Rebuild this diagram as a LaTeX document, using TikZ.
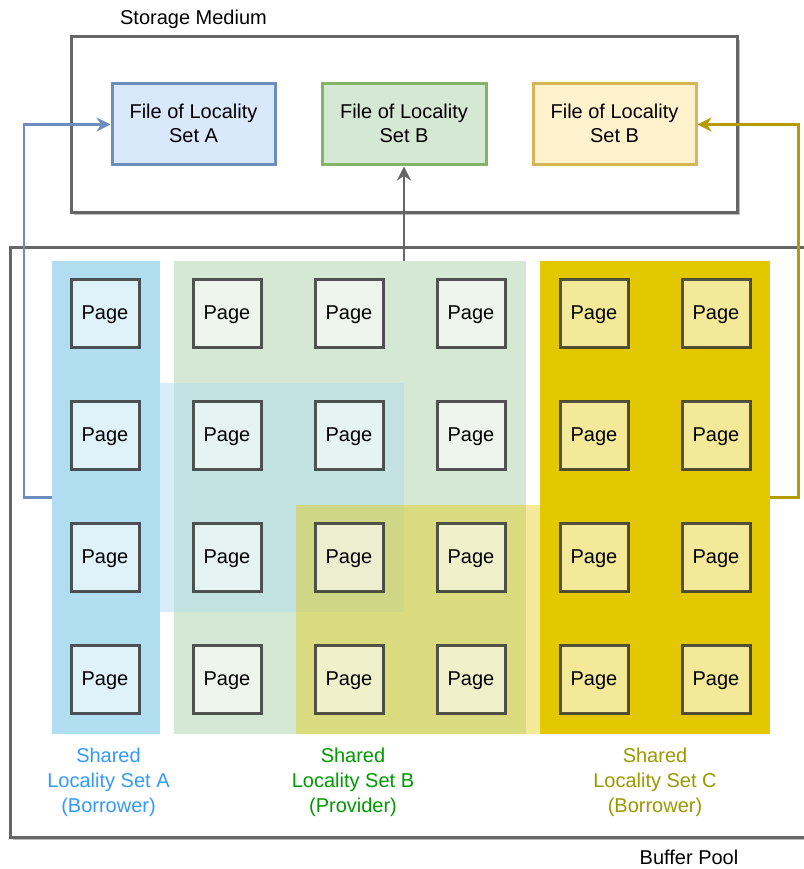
\documentclass[tikz,border=0pt]{standalone}
\usepackage{fontspec}
\setmainfont{Liberation Sans}
\usetikzlibrary{arrows.meta}

\definecolor{boxgray}{HTML}{666666}
\definecolor{shadowgray}{HTML}{BDBDBD}
\definecolor{fileAfill}{HTML}{DAE8FC}
\definecolor{fileAline}{HTML}{6C8EBF}
\definecolor{fileBfill}{HTML}{D5E8D4}
\definecolor{fileBline}{HTML}{82B366}
\definecolor{fileCfill}{HTML}{FFF2CC}
\definecolor{fileCline}{HTML}{D6B656}
\definecolor{setAcol}{HTML}{B1DDF0}
\definecolor{setBcol}{HTML}{D5E8D4}
\definecolor{setCcol}{HTML}{E3C800}
\definecolor{pageline}{HTML}{303030}
\definecolor{arrowC}{HTML}{B59C00}
\definecolor{labA}{HTML}{3399FF}
\definecolor{labB}{HTML}{009900}
\definecolor{labC}{HTML}{999900}

\tikzset{
  txt/.style={font=\fontsize{20}{23.5}\selectfont, align=center, inner sep=0pt},
  caption/.style={txt, font=\fontsize{20}{25}\selectfont},
  container/.style={draw=boxgray, fill=white, line width=3pt},
  contshadow/.style={fill=shadowgray, draw=none},
  filebox/.style={txt, line width=3pt, minimum width=163pt, minimum height=81pt},
  region/.style={draw=none, inner sep=0pt, anchor=north west},
  pagebox/.style={txt, draw=pageline, draw opacity=0.82, fill=white, fill opacity=0.6,
    text opacity=1, text depth=0pt, line width=3pt, minimum width=68pt, minimum height=68pt},
  link/.style={line width=2.75pt, -{Stealth[length=14pt, width=14pt, inset=4.5pt]}},
}

\begin{document}
\begin{tikzpicture}[x=1pt, y=-1pt]
\useasboundingbox (0,0) rectangle (803,869);

% Buffer pool container (runs past the right edge)
\fill[contshadow] (13,250) rectangle (830,840);
\draw[container] (10,247) rectangle (830,837);
\node[txt] (poolLabel) at (689,857) {Buffer Pool};

% Storage medium container
\fill[contshadow] (74,40) rectangle (740,215);
\draw[container] (71,37) rectangle (737,212);
\node[txt] (storeLabel) at (193.5,19) {Storage Medium};

% Files on the storage medium
\node[filebox, draw=fileAline, fill=fileAfill] (fileA) at (193.5,124.5) {};
\node[txt] (fileAtext) at (193.5,123.5) {File of Locality\\Set A};
\node[filebox, draw=fileBline, fill=fileBfill, minimum width=164pt] (fileB) at (404,124.5) {};
\node[txt] (fileBtext) at (404,123.5) {File of Locality\\Set B};
\node[filebox, draw=fileCline, fill=fileCfill] (fileC) at (614.5,124.5) {};
\node[txt] (fileCtext) at (614.5,123.5) {File of Locality\\Set B};

% Locality set regions
\node[region, fill=setAcol, minimum width=108pt, minimum height=473pt] (regA) at (52,261) {};
\node[region, fill=setBcol, minimum width=352pt, minimum height=473pt] (regB) at (174,261) {};
\node[region, fill=setAcol, fill opacity=0.5, minimum width=244pt, minimum height=229pt] (ovA) at (160,383) {};
\node[region, fill=setCcol, fill opacity=0.4, minimum width=244pt, minimum height=229pt] (ovC) at (296,505) {};
\node[region, fill=setCcol, minimum width=230pt, minimum height=473pt] (regC) at (540,261) {};

% Pages
\foreach \c/\x in {1/105,2/227,3/349,4/471,5/594,6/716}{
  \foreach \r/\y in {1/313,2/435,3/557,4/679}{
    \node[pagebox] (page-\r-\c) at (\x,\y) {Page};
  }
}

% Region captions
\node[caption, text=labA] (capA) at (108.5,782.8) {Shared\\Locality Set A\\(Borrower)};
\node[caption, text=labB] (capB) at (353,782.8) {Shared\\Locality Set B\\(Provider)};
\node[caption, text=labC] (capC) at (655,782.8) {Shared\\Locality Set C\\(Borrower)};

% Write-back connectors
\draw[link, draw=fileAline] (regA.west) -- ++(-28,0) |- (fileA.west);
\draw[link, draw=boxgray] (fileB.south |- regB.north) -- (fileB.south);
\draw[link, draw=arrowC] (regC.east) -- ++(28,0) |- (fileC.east);
\end{tikzpicture}
\end{document}
